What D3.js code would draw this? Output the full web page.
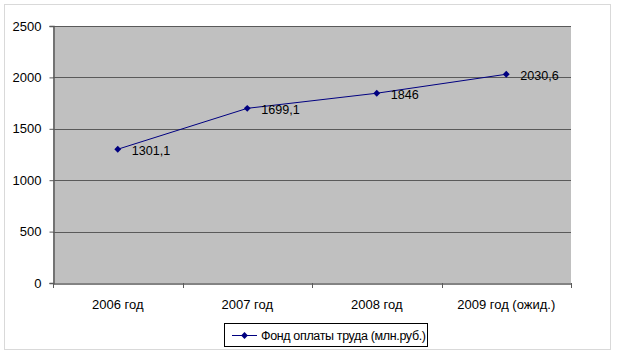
<!DOCTYPE html>
<html><head><meta charset="utf-8">
<script src="https://cdn.jsdelivr.net/npm/d3@7"></script>
<style>body{margin:0;background:#fff}svg{display:block;font-family:"Liberation Sans",Arial,sans-serif}</style>
</head><body><svg id="c" width="617" height="356"></svg>
<script>
const categories = ["2006 год","2007 год","2008 год","2009 год (ожид.)"];
const values = [1301.1, 1699.1, 1846, 2030.6];
const labels = ["1301,1","1699,1","1846","2030,6"];
const yTicks = [0,500,1000,1500,2000,2500];
const seriesName = "Фонд оплаты труда (млн.руб.)";

const svg = d3.select("#c");
const L=53,T=26,R=571,B=283;
svg.append("rect").attr("x",4.5).attr("y",4.5).attr("width",606).attr("height",345).attr("fill","#fff").attr("stroke","#d9d9d9");
svg.append("rect").attr("x",L).attr("y",T).attr("width",R-L).attr("height",B-T).attr("fill","#c0c0c0");

const x = d3.scaleBand().domain(categories).range([L,R]);
const y = d3.scaleLinear().domain([0,2500]).range([B,T]);

svg.append("g").selectAll("line").data(yTicks.filter(d=>d>0)).join("line")
 .attr("x1",L).attr("x2",R).attr("y1",d=>Math.round(y(d))+0.5).attr("y2",d=>Math.round(y(d))+0.5)
 .attr("stroke","#5a5a5a").attr("stroke-width",1);

const ya = svg.append("g").attr("transform",`translate(${L+0.5},0)`)
 .call(d3.axisLeft(y).tickValues(yTicks).tickSize(4).tickPadding(8).tickFormat(d3.format("d")));
ya.select(".domain").attr("stroke","#5a5a5a").attr("stroke-width",1.5);
ya.selectAll(".tick line").attr("stroke","#5a5a5a");
ya.selectAll("text").attr("font-size",13).attr("fill","#000").attr("font-family","Liberation Sans, Arial");

const xa = svg.append("g").attr("transform",`translate(0,${B+0.5})`)
 .call(d3.axisBottom(x).tickSize(0).tickPadding(16));
xa.select(".domain").attr("stroke","#5a5a5a").attr("stroke-width",1.5);
xa.selectAll("text").attr("font-size",13).attr("fill","#000").attr("font-family","Liberation Sans, Arial");
svg.append("g").selectAll("line").data(d3.range(categories.length+1)).join("line")
 .attr("x1",i=>Math.round(L+i*x.step())+0.5).attr("x2",i=>Math.round(L+i*x.step())+0.5)
 .attr("y1",B).attr("y2",B+5).attr("stroke","#5a5a5a");

const cx = d=>x(d)+x.bandwidth()/2;
const pts = categories.map((c,i)=>[cx(c), y(values[i])]);
svg.append("path").attr("d",d3.line()(pts)).attr("fill","none").attr("stroke","#000080").attr("stroke-width",1);
svg.append("g").selectAll("path").data(pts).join("path")
 .attr("transform",d=>`translate(${d[0]},${d[1]})`)
 .attr("d",d3.symbol(d3.symbolDiamond2,30)).attr("fill","#000080");
svg.append("g").selectAll("text").data(pts).join("text")
 .attr("x",d=>d[0]+14).attr("y",d=>d[1]+6).attr("font-size",12.6).text((d,i)=>labels[i]);

const lg = svg.append("g");
lg.append("rect").attr("x",224.5).attr("y",323.5).attr("width",203).attr("height",23).attr("fill","#fff").attr("stroke","#000");
lg.append("line").attr("x1",232).attr("x2",257).attr("y1",335.5).attr("y2",335.5).attr("stroke","#000080");
lg.append("path").attr("transform","translate(244.5,335.5)").attr("d",d3.symbol(d3.symbolDiamond2,30)).attr("fill","#000080");
lg.append("text").attr("x",261).attr("y",340).attr("font-size",12.5).attr("textLength",165).attr("lengthAdjust","spacing").text(seriesName);
</script></body></html>
